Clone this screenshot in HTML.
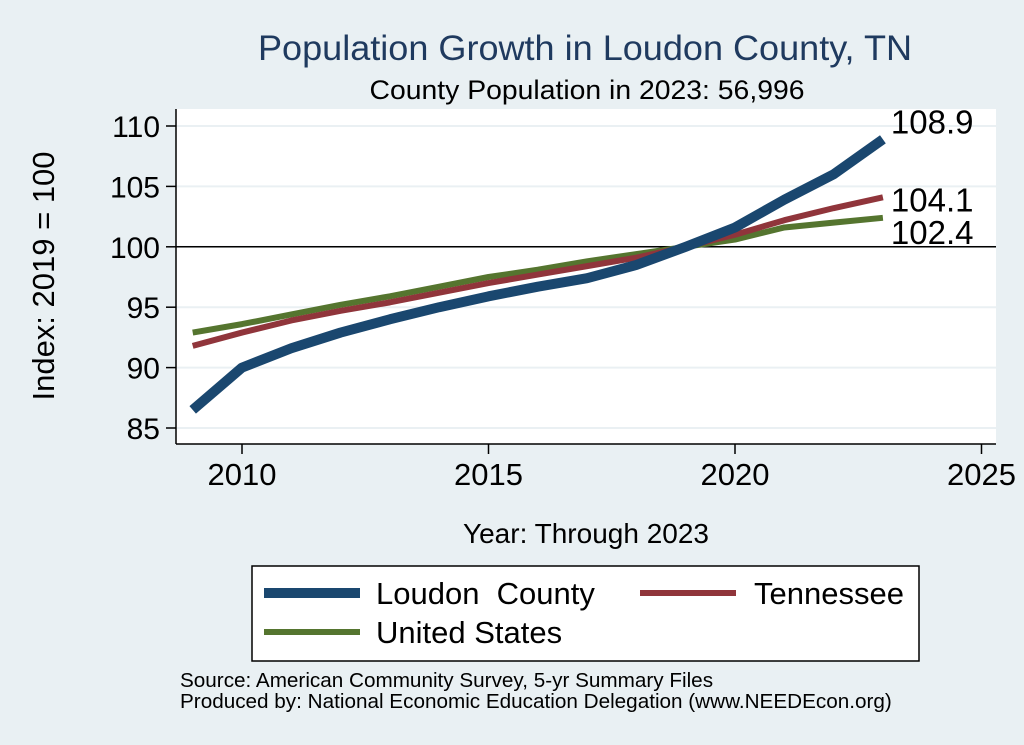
<!DOCTYPE html>
<html><head><meta charset="utf-8"><style>
html,body{margin:0;padding:0;background:#e9f0f3;}
svg{display:block;font-family:"Liberation Sans",Arial,sans-serif;}
</style></head><body>
<svg id="chart" width="1024" height="745" viewBox="0 0 1024 745">
<rect x="0" y="0" width="1024" height="745" fill="#e9f0f3"/>
<text x="585" y="60" font-size="35" fill="#1f3a5f" text-anchor="middle" textLength="654" lengthAdjust="spacingAndGlyphs">Population Growth in Loudon County, TN</text>
<text x="587" y="99" font-size="27" fill="#000" text-anchor="middle" textLength="435" lengthAdjust="spacingAndGlyphs">County Population in 2023: 56,996</text>
<rect x="176" y="109" width="820" height="335" fill="#fff"/>
<g id="grid"></g>
<g id="axes"></g>
<g id="series"></g>
<text x="54" y="276" font-size="31" text-anchor="middle" transform="rotate(-90 54 276)">Index: 2019 = 100</text>
<text x="586" y="543" font-size="28" text-anchor="middle">Year: Through 2023</text>
<g>
<rect x="252" y="566" width="667" height="95" fill="#fff" stroke="#000" stroke-width="1.5"/>
<line x1="264" y1="593" x2="360" y2="593" stroke="#1a476f" stroke-width="10"/>
<text x="376" y="604" font-size="31" xml:space="preserve">Loudon  County</text>
<line x1="640" y1="593" x2="736" y2="593" stroke="#90353b" stroke-width="6"/>
<text x="754" y="604" font-size="31">Tennessee</text>
<line x1="264" y1="632" x2="360" y2="632" stroke="#55752f" stroke-width="6"/>
<text x="376" y="643" font-size="31">United States</text>
</g>
<text x="180" y="687" font-size="20.7">Source: American Community Survey, 5-yr Summary Files</text>
<text x="180" y="708" font-size="20.7">Produced by: National Economic Education Delegation (www.NEEDEcon.org)</text>
</svg>
<script>
const years=[2009,2010,2011,2012,2013,2014,2015,2016,2017,2018,2019,2020,2021,2022,2023];
const loudon=[86.5,90.0,91.6,92.9,94.0,95.0,95.9,96.7,97.4,98.5,100,101.6,103.9,106.0,108.9];
const tennessee=[91.8,92.9,93.9,94.7,95.4,96.2,97.0,97.7,98.4,99.1,100,101.0,102.2,103.2,104.1];
const usa=[92.9,93.6,94.4,95.2,95.9,96.7,97.5,98.1,98.8,99.4,100,100.6,101.6,102.0,102.4];
const xTicks=[2010,2015,2020,2025];
const yTicks=[85,90,95,100,105,110];
const endLabels=["108.9","104.1","102.4"];
const NS="http://www.w3.org/2000/svg";
function X(v){return 242+(v-2010)*49.3;}
function Y(v){return 126+(110-v)*12.08;}
function mk(tag,attrs,parent){const e=document.createElementNS(NS,tag);for(const k in attrs)e.setAttribute(k,attrs[k]);parent.appendChild(e);return e;}
const grid=document.getElementById('grid'),axes=document.getElementById('axes'),ser=document.getElementById('series');
yTicks.forEach(t=>{
  const g=mk('line',{x1:176,x2:996,y1:Y(t),y2:Y(t),stroke:'#eaf0f3','stroke-width':2},grid);
  
  
  const tk=mk('line',{x1:166,x2:176,y1:Y(t),y2:Y(t),stroke:'#000','stroke-width':1.5},axes);
  
  
  const tx=mk('text',{x:160,y:Y(t)+11,'font-size':30,'text-anchor':'end'},axes);
  tx.textContent=t;
  
  
});
const ref=mk('line',{x1:176,x2:996,y1:Y(100),y2:Y(100),stroke:'#000','stroke-width':1.5},grid);


const ya=mk('line',{x1:176,x2:176,y1:109,y2:444,stroke:'#000','stroke-width':1.5},axes);


const xa=mk('line',{x1:176,x2:996,y1:444,y2:444,stroke:'#000','stroke-width':1.5},axes);


xTicks.forEach(t=>{
  const tk=mk('line',{x1:X(t),x2:X(t),y1:444,y2:454,stroke:'#000','stroke-width':1.5},axes);
  
  
  const tx=mk('text',{x:X(t),y:485,'font-size':31,'text-anchor':'middle'},axes);
  tx.textContent=t;
  
  
});
const series=[[usa,'#55752f',6,'line-united-states'],[tennessee,'#90353b',6,'line-tennessee'],[loudon,'#1a476f',10,'line-loudon-county']];
series.forEach(s=>{
  const p=mk('polyline',{points:years.map((y,i)=>X(y)+','+Y(s[0][i])).join(' '),fill:'none',stroke:s[1],'stroke-width':s[2],'stroke-linejoin':'round'},ser);
  
  
});
const last=years.length-1;
[[loudon,0,-6],[tennessee,1,14],[usa,2,26]].forEach(a=>{
  const v=a[0][last];
  const tx=mk('text',{x:X(years[last])+8,y:Y(v)+a[2],'font-size':33},ser);
  tx.textContent=endLabels[a[1]];
  
  
});
</script>
</body></html>
